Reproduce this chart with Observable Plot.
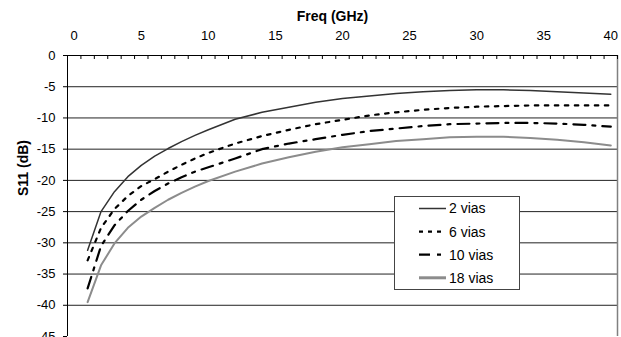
<!DOCTYPE html>
<html><head><meta charset="utf-8">
<script src="https://cdn.jsdelivr.net/npm/d3@7"></script>
<script src="https://cdn.jsdelivr.net/npm/@observablehq/plot@0.6"></script>
<style>
html,body{margin:0;padding:0;overflow:hidden;background:#fff;width:621px;height:337px}
#wrap{position:relative;width:621px;height:337px;overflow:hidden}
#legend{position:absolute;left:394px;top:196px}
</style></head><body><div id="wrap"></div>
<script>
// Data
const freq = [1,2,3,4,5,6,7,8,9,10,12,14,16,18,20,22,24,26,28,30,32,34,36,38,40];
const s2vias  = [-31.2,-25.0,-21.8,-19.4,-17.6,-16.1,-14.9,-13.8,-12.8,-11.9,-10.2,-9.1,-8.3,-7.5,-6.9,-6.5,-6.1,-5.8,-5.6,-5.5,-5.5,-5.6,-5.8,-6.0,-6.2];
const s6vias  = [-32.8,-27.6,-24.6,-22.5,-20.9,-19.8,-18.6,-17.5,-16.5,-15.6,-14.1,-12.9,-11.9,-11.0,-10.3,-9.6,-9.1,-8.7,-8.4,-8.2,-8.1,-8.0,-8.0,-8.0,-8.0];
const s10vias = [-37.3,-30.5,-27.2,-24.9,-23.1,-21.7,-20.5,-19.5,-18.6,-17.9,-16.5,-15.0,-14.1,-13.4,-12.7,-12.1,-11.7,-11.3,-11.0,-10.9,-10.8,-10.8,-10.9,-11.1,-11.4];
const s18vias = [-39.5,-33.6,-30.1,-27.6,-25.8,-24.4,-23.1,-22.0,-21.0,-20.1,-18.6,-17.3,-16.3,-15.4,-14.7,-14.2,-13.7,-13.4,-13.1,-13.0,-13.0,-13.2,-13.5,-13.9,-14.4];
const seriesNames = ["2 vias","6 vias","10 vias","18 vias"];
const seriesValues = [s2vias, s6vias, s10vias, s18vias];
const xTickLabels = [0,5,10,15,20,25,30,35,40];
const yTickLabels = [0,-5,-10,-15,-20,-25,-30,-35,-40,-45];
const xTitle = "Freq (GHz)";
const yTitle = "S11 (dB)";

// Styles
const styles = [
  {stroke:"#333333", width:1.5, dash:null, legendWidth:1.5},
  {stroke:"#000000", width:2.2, dash:"3.5,6.5", legendWidth:2.2},
  {stroke:"#000000", width:2.2, dash:"12,7,3,7", legendWidth:2.2},
  {stroke:"#8c8c8c", width:2, dash:null, legendWidth:3}
];

const minorTicks = d3.range(-0.5, 40.6, 1);
const gridValues = yTickLabels.filter(v => v !== 0 && v !== -45);
const font = "'Liberation Sans', Arial, Helvetica, sans-serif";

const lineMarks = seriesValues.map((vals, i) => {
  const rows = freq.map((f, j) => ({x: f, y: vals[j]}));
  return Plot.line(rows, {x:"x", y:"y", stroke: styles[i].stroke, strokeWidth: styles[i].width,
    strokeDasharray: styles[i].dash || undefined, strokeLinejoin:"round"});
});

const chart = Plot.plot({
  width: 621, height: 350,
  marginTop: 55, marginLeft: 67, marginRight: 4, marginBottom: 14,
  x: {domain: [-0.5, 40.5]},
  y: {domain: [-45, 0]},
  style: {fontFamily: font, fontSize: "13px", color: "#000", background: "#fff", overflow: "visible"},
  marks: [
    Plot.ruleY(gridValues, {stroke: "#222", strokeWidth: 1}),
    Plot.ruleX([40.5], {stroke: "#808080", strokeWidth: 1.5}),
    ...lineMarks,
    Plot.ruleX([-0.5], {stroke: "#000", strokeWidth: 1}),
    Plot.ruleY([0], {stroke: "#000", strokeWidth: 1}),
    Plot.ruleX(minorTicks, {x: d => d, insetBottom: 277, stroke: "#000", strokeWidth: 1}),
    Plot.axisY({ticks: yTickLabels, tickSize: 4, tickPadding: 8, tickFormat: d => String(d).replace("−","-"), fontSize: 13, label: null}),
    Plot.axisX({anchor: "top", ticks: xTickLabels, tickSize: 0, tickPadding: 16, fontSize: 13, label: null}),
    Plot.text([xTitle], {frameAnchor: "top", dy: -39, dx: -10, fontWeight: "bold", fontSize: 14, lineAnchor: "middle"}),
    Plot.text([yTitle], {frameAnchor: "left", dx: -44, rotate: -90, fontWeight: "bold", fontSize: 14, lineAnchor: "middle"})
  ]
});
const wrap = document.getElementById("wrap");
wrap.appendChild(chart);

// Legend
const lw = 126, lh = 94;
const leg = d3.select(wrap).append("svg").attr("id","legend").attr("width", lw).attr("height", lh)
  .style("font-family", font);
leg.append("rect").attr("x",0.5).attr("y",0.5).attr("width",lw-1).attr("height",lh-1)
  .attr("fill","#fff").attr("stroke","#444").attr("stroke-width",1);
seriesNames.forEach((name, i) => {
  const cy = 12.5 + i*23.1;
  leg.append("line").attr("x1",25).attr("x2",52).attr("y1",cy).attr("y2",cy)
    .attr("stroke", styles[i].stroke).attr("stroke-width", styles[i].legendWidth)
    .attr("stroke-dasharray", i===1 ? "4,5" : i===2 ? "11,7,4,7" : null);
  leg.append("text").attr("x",55).attr("y",cy).attr("dy","0.35em").attr("font-size",14).attr("fill","#000").text(name);
});
</script></body></html>
